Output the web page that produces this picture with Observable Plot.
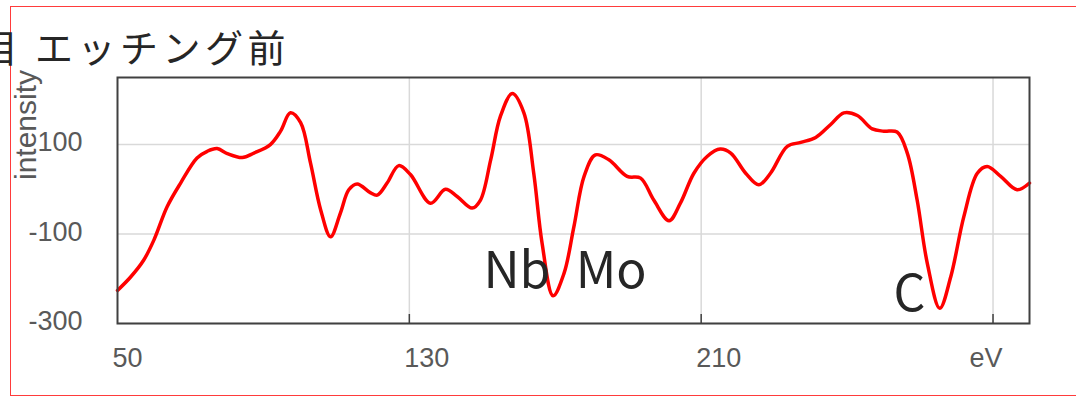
<!DOCTYPE html>
<html>
<head>
<meta charset="utf-8">
<script src="https://cdn.jsdelivr.net/npm/d3@7"></script>
<script src="https://cdn.jsdelivr.net/npm/@observablehq/plot@0.6"></script>
<style>
html, body { margin: 0; padding: 0; background: #fff; width: 1076px; height: 397px; overflow: hidden; }
#wrap { position: relative; width: 1076px; height: 397px; overflow: hidden; }
#border { position: absolute; left: 10px; top: 6px; width: 1120px; height: 390px; border: 1.5px solid #ff3b3b; box-sizing: border-box; }
#chart { position: absolute; left: 0; top: 0; }
.title { position: absolute; top: 26px; font-family: "Noto Sans CJK JP"; font-size: 38px; line-height: 40px; color: #262626; white-space: nowrap; }
#title { left: 35px; letter-spacing: 4.5px; }
#cut { left: -20px; }
#ylabel { position: absolute; left: -44px; top: 110px; width: 140px; height: 30px; line-height: 30px; text-align: center;
  font-family: "Liberation Sans"; font-size: 30px; color: #595959; transform: rotate(-90deg); transform-origin: 70px 15px; }
</style>
</head>
<body>
<div id="wrap">
  <div id="border"></div>
  <div id="chart"></div>
  <div class="title" id="cut">目</div>
  <div class="title" id="title">エッチング前</div>
  <div id="ylabel">intensity</div>
</div>
<script>
// Data
const energy = [50, 53.6, 57.2, 60, 63.6, 67.3, 71.8, 74.6, 77.3, 80.1, 84.2, 87.4, 91.9, 94.7, 97.4, 100.2, 102.9, 105.7, 108.4, 111.1, 113.4, 115.7, 119.4, 121.2, 123.9, 127.1, 130.3, 135.8, 139.9, 143.1, 147.2, 149.5, 152.3, 155, 158.2, 161.4, 164.1, 166.4, 169.4, 172.4, 175.1, 177.9, 181, 184.7, 189.7, 193.4, 197, 201.2, 204.3, 208, 211.7, 215.2, 218.1, 222.2, 225.8, 229, 233.6, 237.3, 241.4, 245.5, 249.1, 252.8, 256.9, 260.1, 263.7, 266.5, 269.2, 272, 275.4, 278.4, 282, 285.7, 288.4, 292.1, 296.6, 300];
const intensity = [-226, -196, -158, -113, -39, 14, 70, 85, 91, 80, 71, 81, 100, 130, 171, 149, 59, -46, -106, -53, -1, 12, -8, -13, 14, 53, 33, -31, 0, -16, -42, -24, 66, 164, 214, 171, 36, -121, -238, -188, -84, 29, 77, 66, 29, 25, -24, -70, -31, 36, 74, 90, 81, 36, 10, 36, 96, 105, 116, 145, 171, 165, 135, 130, 128, 81, -24, -166, -266, -196, -61, 36, 51, 29, -1, 14];

const xTicks = [50, 130, 210];
const unitTick = [290];
const unitLabel = "eV";
const xGrid = [130, 210, 290];
const yTicks = [100, -100, -300];
const xDomain = [50, 300];
const yDomain = [-300, 250];

const noteLabels = ["Nb", "Mo", "C"];
const noteX = [150.3, 175.6, 262.7];
const noteY = [-221, -221, -271];

const rows = energy.map((e, i) => ({e, v: intensity[i]}));
const notes = noteLabels.map((t, i) => ({t, x: noteX[i], y: noteY[i]}));

const W = 1076, H = 397, mL = 117, mR = 47, mT = 77, mB = 74;
const innerH = H - mT - mB;

const plot = Plot.plot({
  width: W, height: H,
  marginLeft: mL, marginRight: mR, marginTop: mT, marginBottom: mB,
  x: {domain: xDomain},
  y: {domain: yDomain},
  style: {fontFamily: "Liberation Sans", fontSize: "27px", color: "#595959", background: "transparent"},
  marks: [
    Plot.gridY(yTicks, {stroke: "#d9d9d9", strokeOpacity: 1, strokeWidth: 1.5}),
    Plot.gridX(xGrid, {stroke: "#d9d9d9", strokeOpacity: 1, strokeWidth: 1.5}),
    Plot.line(rows, {x: "e", y: "v", stroke: "#ff0000", strokeWidth: 3.5, curve: "catmull-rom"}),
    Plot.frame({stroke: "#404040", strokeWidth: 2}),
    Plot.tickX(xGrid, {x: d => d, insetTop: innerH - 9, stroke: "#404040", strokeWidth: 1.5}),
    Plot.axisY(yTicks, {tickSize: 0, tickPadding: 35, dy: -2, tickFormat: d => String(d), fill: "#595959", fontSize: 27, label: null}),
    Plot.axisX(xTicks, {tickSize: 0, tickPadding: 24, textAnchor: "start", dx: -5, tickFormat: d => String(d), fill: "#595959", fontSize: 27, label: null}),
    Plot.axisX(unitTick, {tickSize: 0, tickPadding: 24, tickFormat: () => unitLabel, dx: -7, fill: "#595959", fontSize: 27, label: null}),
    Plot.text(notes, {x: "x", y: "y", text: "t", textAnchor: "start", lineAnchor: "bottom", fontSize: 50, fill: "#262626", fontFamily: "Noto Sans CJK JP"})
  ]
});
document.getElementById("chart").appendChild(plot);
</script>
</body>
</html>
